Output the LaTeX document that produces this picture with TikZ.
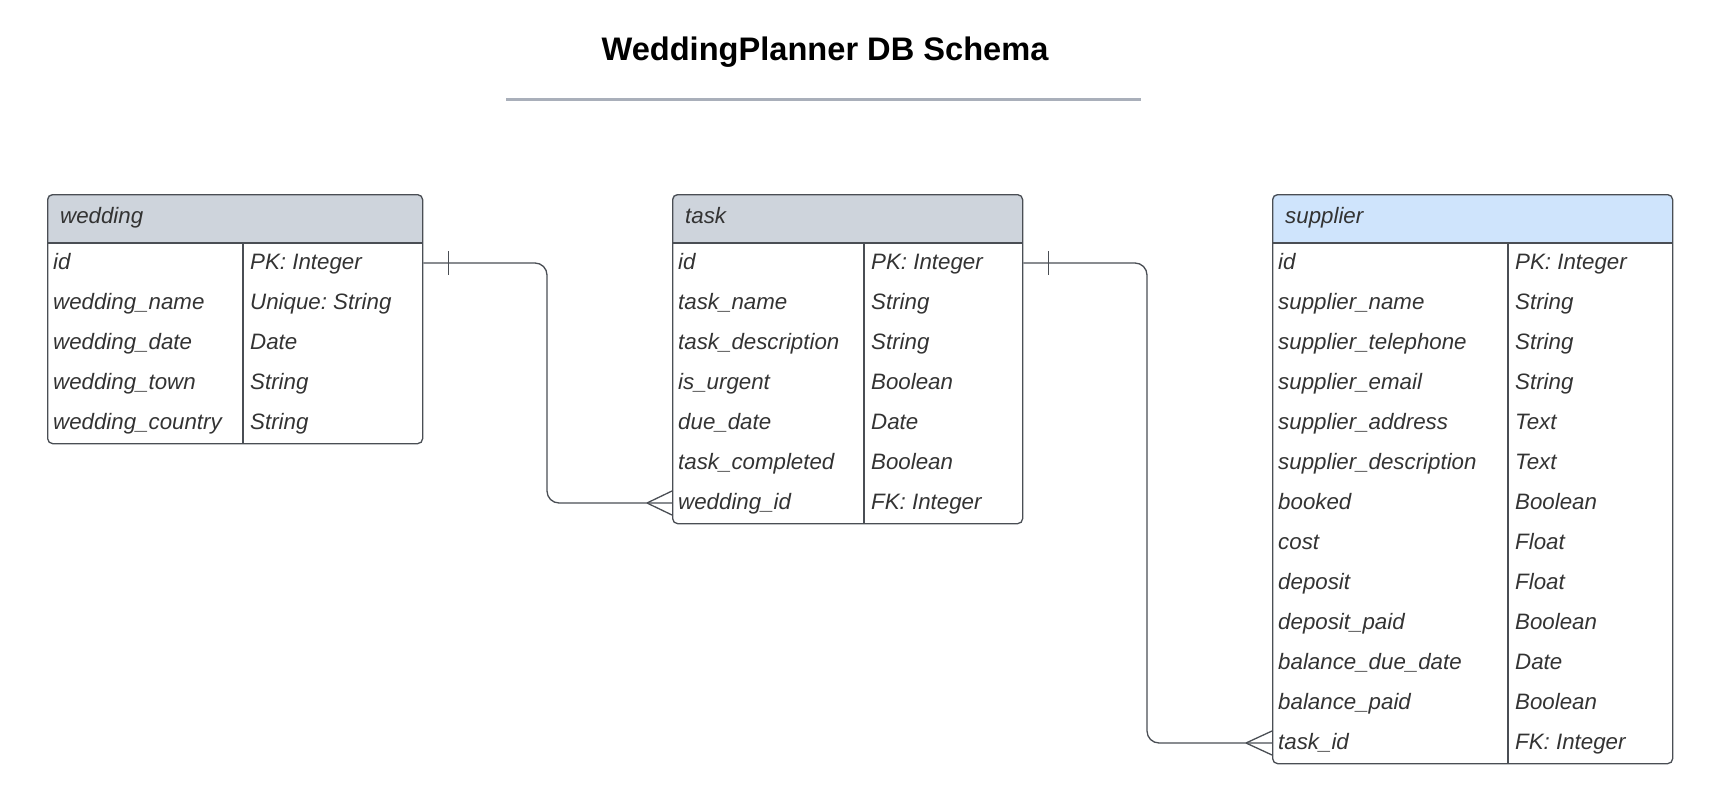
\documentclass[tikz,border=0pt]{standalone}
\usepackage{fontspec}
\setmainfont{Liberation Sans}
\usetikzlibrary{calc}
\definecolor{linec}{HTML}{4A4E54}
\definecolor{txt}{HTML}{333333}
\definecolor{hdrgray}{HTML}{CED4DC}
\definecolor{hdrblue}{HTML}{CFE4FC}
\definecolor{rulec}{HTML}{A9AFBA}
\frenchspacing
\tikzset{
  tbl/.style={draw=linec, line width=1.3pt, rounded corners=5pt, rectangle, inner sep=0pt, anchor=north west},
  fld/.style={anchor=west, text=txt, font=\fontsize{22.3}{26}\selectfont\itshape, inner sep=0pt, text height=16pt, text depth=4pt},
  sep/.style={draw=linec, line width=1.3pt},
  conn/.style={draw=linec, line width=1.3pt},
}
\begin{document}
\begin{tikzpicture}[x=1pt,y=-1pt]
\useasboundingbox (0,0) rectangle (1719,808);
% title
\node[font=\fontsize{32.6}{38}\selectfont\bfseries, text=black] (title) at (825,52) {WeddingPlanner DB Schema};
\draw[rulec, line width=3pt] (506,99) -- (1141,99);

% ---------- wedding ----------
\begin{scope}
\clip[rounded corners=5pt] (47,194) rectangle (422,443);
\fill[hdrgray] (47,194) rectangle (422,243);
\end{scope}
\node[tbl, minimum width=375pt, minimum height=249pt] (wedding) at (47,194) {};
\draw[sep] (47,243) -- (422,243);
\draw[sep] (243,243) -- (243,443);
\node[fld] (w-h) at (60,217) {wedding};
\foreach \n/\t [count=\i] in {id/PK: Integer, wedding\_name/Unique: String, wedding\_date/Date, wedding\_town/String, wedding\_country/String}{
  \node[fld] (w-n\i) at (53,{263+40*(\i-1)}) {\n};
  \node[fld] (w-t\i) at (250,{263+40*(\i-1)}) {\t};
}

% ---------- task ----------
\begin{scope}
\clip[rounded corners=5pt] (672,194) rectangle (1022,523);
\fill[hdrgray] (672,194) rectangle (1022,243);
\end{scope}
\node[tbl, minimum width=350pt, minimum height=329pt] (task) at (672,194) {};
\draw[sep] (672,243) -- (1022,243);
\draw[sep] (864,243) -- (864,523);
\node[fld] (t-h) at (685,217) {task};
\foreach \n/\t [count=\i] in {id/PK: Integer, task\_name/String, task\_description/String, is\_urgent/Boolean, due\_date/Date, task\_completed/Boolean, wedding\_id/FK: Integer}{
  \node[fld] (t-n\i) at (678,{263+40*(\i-1)}) {\n};
  \node[fld] (t-t\i) at (871,{263+40*(\i-1)}) {\t};
}

% ---------- supplier ----------
\begin{scope}
\clip[rounded corners=5pt] (1272,194) rectangle (1672,763);
\fill[hdrblue] (1272,194) rectangle (1672,243);
\end{scope}
\node[tbl, minimum width=400pt, minimum height=569pt] (supplier) at (1272,194) {};
\draw[sep] (1272,243) -- (1672,243);
\draw[sep] (1508,243) -- (1508,763);
\node[fld] (s-h) at (1285,217) {supplier};
\foreach \n/\t [count=\i] in {id/PK: Integer, supplier\_name/String, supplier\_telephone/String, supplier\_email/String, supplier\_address/Text, supplier\_description/Text, booked/Boolean, cost/Float, deposit/Float, deposit\_paid/Boolean, balance\_due\_date/Date, balance\_paid/Boolean, task\_id/FK: Integer}{
  \node[fld] (s-n\i) at (1278,{263+40*(\i-1)}) {\n};
  \node[fld] (s-t\i) at (1515,{263+40*(\i-1)}) {\t};
}

% ---------- connectors ----------
\coordinate (j1) at (547,263);
\coordinate (j2) at (1147,263);
\draw[conn, rounded corners=12pt] (wedding.east |- w-n1) -- (j1) -- (j1 |- t-n7) -- (task.west |- t-n7);
\draw[conn] ($(wedding.east |- w-n1)+(25,-12)$) -- ++(0,24);
\draw[conn] ($(task.west |- t-n7)+(-25,0)$) -- ($(task.west |- t-n7)+(0,-12)$);
\draw[conn] ($(task.west |- t-n7)+(-25,0)$) -- ($(task.west |- t-n7)+(0,12)$);

\draw[conn, rounded corners=12pt] (task.east |- t-n1) -- (j2) -- (j2 |- s-n13) -- (supplier.west |- s-n13);
\draw[conn] ($(task.east |- t-n1)+(25,-12)$) -- ++(0,24);
\draw[conn] ($(supplier.west |- s-n13)+(-26,0)$) -- ($(supplier.west |- s-n13)+(0,-12)$);
\draw[conn] ($(supplier.west |- s-n13)+(-26,0)$) -- ($(supplier.west |- s-n13)+(0,12)$);
\end{tikzpicture}
\end{document}
